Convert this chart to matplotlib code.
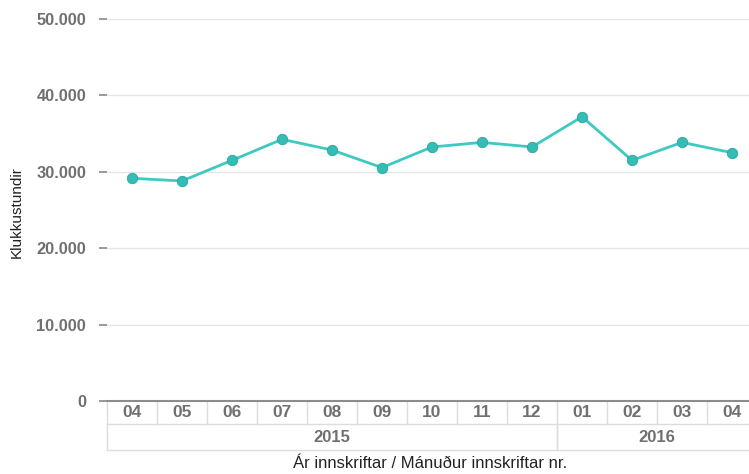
import matplotlib
matplotlib.use('Agg')
import matplotlib.pyplot as plt
from matplotlib.transforms import blended_transform_factory

# chart data
months = ['04', '05', '06', '07', '08', '09', '10', '11', '12', '01', '02', '03', '04']
years = ['2015', '2016']
year_span = [9, 4]  # number of months in each year
hours = [29150, 28800, 31500, 34250, 32850, 30550, 33250, 33850, 33250,
         37200, 31500, 33850, 32500]
y_ticks = [0, 10000, 20000, 30000, 40000, 50000]
y_tick_labels = ['0', '10.000', '20.000', '30.000', '40.000', '50.000']

plt.rcParams['font.family'] = ['Liberation Sans', 'DejaVu Sans']

W, H = 749, 474
fig = plt.figure(figsize=(W / 100, H / 100), dpi=100)
left, bottom, top = 107, 401, 19
ax = fig.add_axes([left / W, (H - bottom) / H, 650 / W, (bottom - top) / H])

n = len(months)
x = list(range(n))
ax.plot(x, hours, color='#3ec9c1', lw=2.0, marker='o', markersize=7.5,
        markerfacecolor='#33bdb5', markeredgecolor='#2aa59e', markeredgewidth=0.6,
        zorder=3, clip_on=False)

ax.set_xlim(-0.5, n - 0.5)
ax.set_ylim(0, 50000)
ax.set_yticks(y_ticks)
ax.set_yticklabels(y_tick_labels, fontsize=11.8, fontweight='bold', color='#707070')
ax.tick_params(axis='y', length=6, width=1.2, color='#888888', pad=9)
ax.set_xticks([])
ax.grid(axis='y', color='#e6e6e6', lw=1)
ax.set_axisbelow(True)
for s in ['top', 'right', 'left']:
    ax.spines[s].set_visible(False)
ax.spines['bottom'].set_color('#8c8c8c')
ax.spines['bottom'].set_linewidth(1.5)
ax.spines['bottom'].set_zorder(4)

# category table below the axis
trans = blended_transform_factory(ax.transData, ax.transAxes)
px = 1 / (bottom - top)
row1 = -23 * px
row2 = -49 * px
border = '#dcdcdc'
for i, m in enumerate(months):
    ax.text(i, row1 / 2, m, transform=trans, ha='center', va='center',
            fontsize=12.5, fontweight='bold', color='#707070')
for i in range(n + 1):
    ax.plot([i - 0.5, i - 0.5], [0, row1], transform=trans, color=border,
            lw=1, clip_on=False)
ax.plot([-0.5, n - 0.5], [row1, row1], transform=trans, color=border, lw=1, clip_on=False)
ax.plot([-0.5, n - 0.5], [row2, row2], transform=trans, color=border, lw=1, clip_on=False)

start = 0
for yr, span in zip(years, year_span):
    ax.text(start - 0.5 + span / 2, (row1 + row2) / 2, yr, transform=trans,
            ha='center', va='center', fontsize=12, fontweight='bold', color='#707070')
    for b in [start - 0.5, start + span - 0.5]:
        ax.plot([b, b], [row1, row2], transform=trans, color=border, lw=1, clip_on=False)
    start += span

fig.text(430 / W, 1 - 463 / H, 'Ár innskriftar / Mánuður innskriftar nr.',
         ha='center', va='center', fontsize=12, color='#222222')
fig.text(17 / W, 1 - 212 / H, 'Klukkustundir', rotation=90,
         ha='center', va='center', fontsize=11, color='#222222')

fig.savefig('out.png', dpi=100)
